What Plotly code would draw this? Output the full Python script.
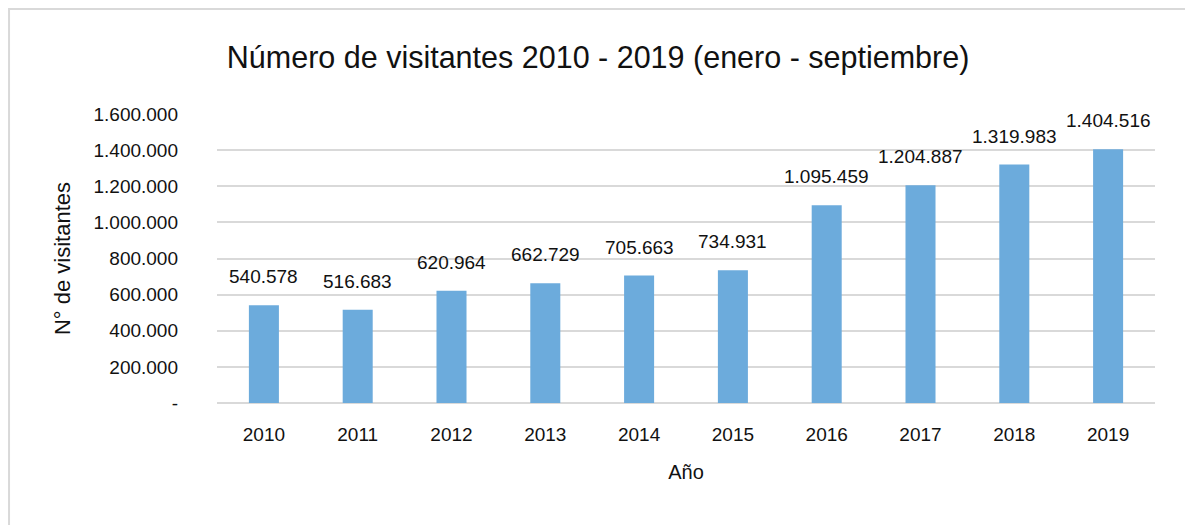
import plotly.graph_objects as go

years = ["2010", "2011", "2012", "2013", "2014", "2015", "2016", "2017", "2018", "2019"]
visitors = [540578, 516683, 620964, 662729, 705663, 734931, 1095459, 1204887, 1319983, 1404516]
ytick_vals = [0, 200000, 400000, 600000, 800000, 1000000, 1200000, 1400000, 1600000]
ytick_text = ["-", "200.000", "400.000", "600.000", "800.000", "1.000.000",
              "1.200.000", "1.400.000", "1.600.000"]

FONT = "Liberation Sans, Arial, sans-serif"
INK = "#111111"


def fmt(v):
    return f"{v:,}".replace(",", ".")


fig = go.Figure()
fig.add_trace(go.Bar(
    x=years, y=visitors,
    marker_color="#6CABDC",
    marker_line_width=0,
    hoverinfo="x+y",
))

# etiquetas de datos encima de cada barra (x = índice de categoría)
for i, v in enumerate(visitors):
    fig.add_annotation(
        x=i, y=v, text=fmt(v), showarrow=False,
        yanchor="bottom", yshift=16,
        font=dict(family=FONT, size=19, color=INK),
    )

fig.update_layout(
    width=1193, height=525,
    margin=dict(l=209, r=46, t=106, b=130),
    paper_bgcolor="white", plot_bgcolor="white",
    bargap=0.68,
    showlegend=False,
    font=dict(family=FONT, color=INK),
    title=dict(
        text="Número de visitantes 2010 - 2019 (enero - septiembre)",
        xref="container", yref="container",
        x=0.4946, xanchor="center", y=0.9067, yanchor="middle",
        font=dict(family=FONT, size=30.5, color=INK),
    ),
    xaxis=dict(
        type="category",
        title=dict(text="Año", font=dict(size=20), standoff=20),
        tickfont=dict(size=19),
        showline=False, showgrid=False, ticks="",
        ticklabelstandoff=18,
    ),
    yaxis=dict(
        title=dict(text="N° de visitantes", font=dict(size=22), standoff=16),
        range=[0, 1600000],
        tickvals=ytick_vals, ticktext=ytick_text,
        tickfont=dict(size=19),
        showgrid=True, gridcolor="#D9D9D9", gridwidth=1.5,
        zeroline=True, zerolinecolor="#D9D9D9", zerolinewidth=1.5,
        ticks="", ticklabelstandoff=38,
    ),
    # marco gris alrededor del gráfico
    shapes=[dict(
        type="rect", xref="paper", yref="paper",
        x0=-0.2217, x1=1.0341, y0=-0.5, y1=1.3633,
        line=dict(color="#D9D9D9", width=2), layer="below",
    )],
)

fig.write_html("out.html")
